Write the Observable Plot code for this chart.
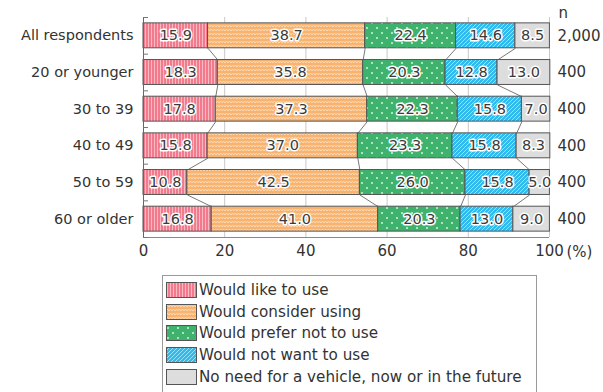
<!DOCTYPE html>
<html>
<head>
<meta charset="utf-8">
<script src="https://cdn.jsdelivr.net/npm/d3@7"></script>
<script src="https://cdn.jsdelivr.net/npm/@observablehq/plot@0.6"></script>
<style>
  body { margin: 0; background: #fff; font-family: "DejaVu Sans", sans-serif; color: #333; }
  #defs { position: absolute; width: 0; height: 0; }
  .legend { margin: 7px 0 0 162px; width: 370px; border: 1px solid #9a9a9a; border-bottom: none; padding: 3px 0 6px 3px; font-size: 15.2px; }
  .legend div { display: flex; align-items: center; height: 21.7px; }
  .legend svg { margin-right: 2px; }
</style>
</head>
<body>
<svg id="defs" aria-hidden="true">
  <defs>
    <pattern id="p-like" width="3" height="3" patternUnits="userSpaceOnUse">
      <rect width="3" height="3" fill="#f27a8c"/>
      <line x1="1.5" y1="0" x2="1.5" y2="3" stroke="#f9b9c2" stroke-width="1"/>
    </pattern>
    <pattern id="p-consider" width="6" height="4" patternUnits="userSpaceOnUse">
      <rect width="6" height="4" fill="#f8b370"/>
      <path d="M0,3 L1.5,1 L3,3 L4.5,1 L6,3" fill="none" stroke="#fde2c4" stroke-width="0.8"/>
    </pattern>
    <pattern id="p-prefer" width="10" height="10" patternUnits="userSpaceOnUse">
      <rect width="10" height="10" fill="#3fb36d"/>
      <circle cx="2" cy="3" r="1" fill="#d4f3de"/>
      <circle cx="7" cy="8" r="1" fill="#d4f3de"/>
    </pattern>
    <pattern id="p-notwant" width="4" height="4" patternUnits="userSpaceOnUse">
      <rect width="4" height="4" fill="#30bbec"/>
      <path d="M-1,1 L1,-1 M0,4 L4,0 M3,5 L5,3" stroke="#a9e3f7" stroke-width="0.9"/>
    </pattern>
  </defs>
</svg>
<div id="chart"></div>
<div class="legend" id="legend"></div>
<script>
// Survey groups, top to bottom
const categories = ["All respondents", "20 or younger", "30 to 39", "40 to 49", "50 to 59", "60 or older"];
const sampleSizes = ["2,000", "400", "400", "400", "400", "400"];

// Answer options, left to right
const responses = [
  "Would like to use",
  "Would consider using",
  "Would prefer not to use",
  "Would not want to use",
  "No need for a vehicle, now or in the future"
];

// Shares (%) per group for each answer
const likeToUse     = [15.9, 18.3, 17.8, 15.8, 10.8, 16.8];
const considerUsing = [38.7, 35.8, 37.3, 37.0, 42.5, 41.0];
const preferNotUse  = [22.4, 20.3, 22.3, 23.3, 26.0, 20.3];
const notWantToUse  = [14.6, 12.8, 15.8, 15.8, 15.8, 13.0];
const noNeed        = [8.5, 13.0, 7.0, 8.3, 5.0, 9.0];

const xTicks = [0, 20, 40, 60, 80, 100];

const series = [likeToUse, considerUsing, preferNotUse, notWantToUse, noNeed];
const fills = ["url(#p-like)", "url(#p-consider)", "url(#p-prefer)", "url(#p-notwant)", "#dddddd"];
const half = 0.34; // half bar thickness, in row units

// Stack the segments of every row
const segments = [];
const cums = categories.map((_, row) => {
  let acc = 0;
  const edges = [0];
  series.forEach((values, k) => {
    const v = values[row];
    segments.push({row, k, value: v, x1: acc, x2: acc + v});
    acc += v;
    edges.push(acc);
  });
  return edges;
});

// Connector lines between the matching edges of neighbouring bars
const links = [];
for (let row = 0; row < categories.length - 1; row++) {
  for (let k = 1; k < series.length; k++) {
    links.push({x1: cums[row][k], x2: cums[row + 1][k], y1: row + half, y2: row + 1 - half});
  }
}

const rows = categories.map((_, i) => i);
const boundaries = [...rows.map(i => i - 0.5), categories.length - 0.5];
const fmt = d3.format(".1f");

const chart = Plot.plot({
  width: 603,
  height: 268,
  marginLeft: 143,
  marginRight: 54,
  marginTop: 17,
  marginBottom: 31,
  style: {fontFamily: "DejaVu Sans, sans-serif", fontSize: "14.5px", color: "#333", background: "#fff"},
  x: {domain: [0, 100]},
  y: {domain: [categories.length - 0.5, -0.5]},
  marks: [
    Plot.ruleX(xTicks.slice(1), {y1: -0.5, y2: categories.length - 0.5, stroke: "#c8c8c8", strokeWidth: 1}),
    Plot.link(links, {x1: "x1", x2: "x2", y1: "y1", y2: "y2", stroke: "#555", strokeWidth: 0.8}),
    Plot.rect(segments, {
      x1: "x1", x2: "x2",
      y1: d => d.row - half, y2: d => d.row + half,
      fill: d => fills[d.k], stroke: "#555", strokeWidth: 1
    }),
    Plot.text(segments, {
      x: d => (d.x1 + d.x2) / 2, y: "row",
      text: d => fmt(d.value),
      fill: "#3a3a3a", stroke: "white", strokeWidth: 3, fontSize: 14.5
    }),
    Plot.ruleX([0], {y1: -0.5, y2: categories.length - 0.5, stroke: "#666"}),
    Plot.ruleY([categories.length - 0.5], {x1: 0, x2: 100, stroke: "#888"}),
    Plot.axisY({ticks: boundaries, tickSize: -5, tickFormat: () => "", stroke: "#777"}),
    Plot.axisY({ticks: rows, tickSize: 0, tickPadding: 10, tickFormat: i => categories[i], fontSize: 14.5, fill: "#333"}),
    Plot.axisX({ticks: xTicks, tickSize: 0, tickPadding: 8, fontSize: 15, fill: "#333"}),
    Plot.text(["(%)"], {x: 100, y: categories.length - 0.5, dx: 17, dy: 15, textAnchor: "start", fontSize: 15, fill: "#333"}),
    Plot.text(sampleSizes, {x: 100, y: (d, i) => i, dx: 8, textAnchor: "start", fontSize: 15, fill: "#333"}),
    Plot.text(["n"], {x: 100, y: -0.5, dx: 9, dy: -4, textAnchor: "start", fontSize: 15, fill: "#333"})
  ]
});
document.getElementById("chart").append(chart);

// Legend with the same fills as the bars
const legend = document.getElementById("legend");
responses.forEach((label, k) => {
  const item = document.createElement("div");
  item.innerHTML = `<svg width="31" height="16"><rect x="0.5" y="0.5" width="30" height="15" fill="${fills[k]}" stroke="#555"/></svg><span>${label}</span>`;
  legend.append(item);
});
</script>
</body>
</html>
